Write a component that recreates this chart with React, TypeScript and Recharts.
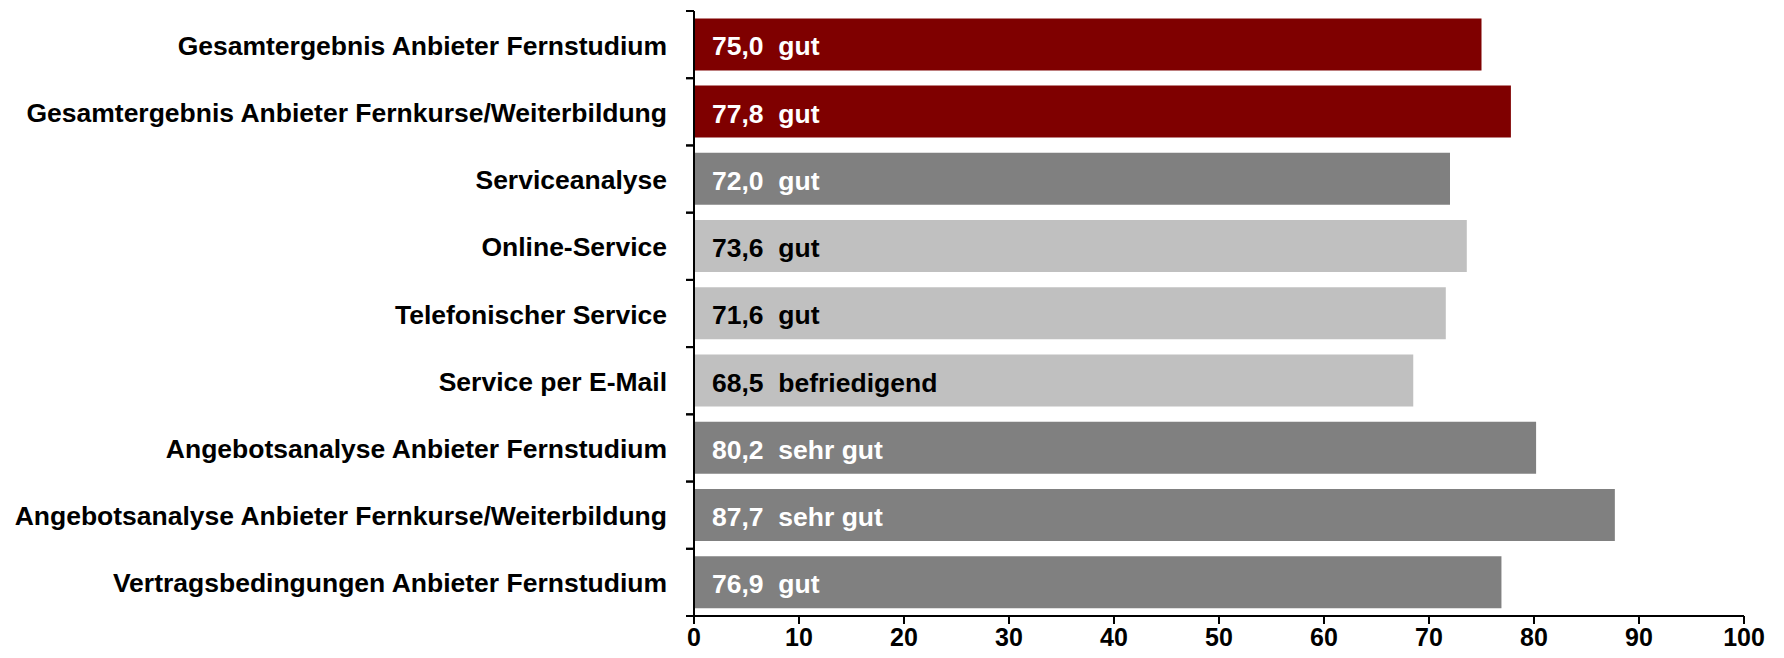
import React from "react";
import { BarChart, Bar, XAxis, YAxis, Cell, LabelList } from "recharts";

const categories = [
  "Gesamtergebnis Anbieter Fernstudium",
  "Gesamtergebnis Anbieter Fernkurse/Weiterbildung",
  "Serviceanalyse",
  "Online-Service",
  "Telefonischer Service",
  "Service per E-Mail",
  "Angebotsanalyse Anbieter Fernstudium",
  "Angebotsanalyse Anbieter Fernkurse/Weiterbildung",
  "Vertragsbedingungen Anbieter Fernstudium",
];
const scores = [75.0, 77.8, 72.0, 73.6, 71.6, 68.5, 80.2, 87.7, 76.9];
const grades = ["gut", "gut", "gut", "gut", "gut", "befriedigend", "sehr gut", "sehr gut", "gut"];
const groups = ["total", "total", "main", "sub", "sub", "sub", "main", "main", "main"];
const xTicks = [0, 10, 20, 30, 40, 50, 60, 70, 80, 90, 100];

const groupFill: Record<string, string> = { total: "#7f0000", main: "#808080", sub: "#c0c0c0" };
const groupText: Record<string, string> = { total: "#ffffff", main: "#ffffff", sub: "#000000" };

const data = categories.map((name, i) => ({
  name,
  value: scores[i],
  grade: grades[i],
  group: groups[i],
}));

const FONT = "'Liberation Sans', Arial, sans-serif";
const AXIS_X = 694;

const YTick = (props: any) => {
  const { y, payload } = props;
  const off = payload.offset ?? 0;
  return (
    <g>
      <line x1={AXIS_X - 8} x2={AXIS_X} y1={y - off} y2={y - off} stroke="#000" strokeWidth={2} />
      <line x1={AXIS_X - 8} x2={AXIS_X} y1={y + off} y2={y + off} stroke="#000" strokeWidth={2} />
      <text
        x={AXIS_X - 27}
        y={y + 1}
        textAnchor="end"
        dominantBaseline="central"
        fontFamily={FONT}
        fontWeight="bold"
        fontSize={26.5}
        fill="#000"
      >
        {payload.value}
      </text>
    </g>
  );
};

const BarLabel = (props: any) => {
  const { x, y, height, index } = props;
  const d = data[index];
  return (
    <text
      x={x + 18}
      y={y + height / 2 + 2}
      dominantBaseline="central"
      fontFamily={FONT}
      fontWeight="bold"
      fontSize={26.5}
      fill={groupText[d.group]}
    >
      {d.value.toFixed(1).replace(".", ",") + "\u00a0\u00a0" + d.grade}
    </text>
  );
};

export default function App() {
  return (
    <div style={{ position: "absolute", left: 0, top: 0, background: "#fff" }}>
      <BarChart
        width={1784}
        height={658}
        data={data}
        layout="vertical"
        margin={{ top: 11, right: 40, bottom: 0, left: 0 }}
        barCategoryGap="11%"
      >
        <XAxis
          type="number"
          domain={[0, 100]}
          ticks={xTicks}
          interval={0}
          height={42}
          axisLine={{ stroke: "#000", strokeWidth: 2 }}
          tickLine={{ stroke: "#000", strokeWidth: 2 }}
          tickSize={8}
          tickMargin={4}
          tick={{ fontFamily: FONT, fontWeight: "bold", fontSize: 25, fill: "#000" }}
        />
        <YAxis
          type="category"
          dataKey="name"
          width={694}
          interval={0}
          axisLine={{ stroke: "#000", strokeWidth: 2 }}
          tickLine={false}
          tick={<YTick />}
        />
        <Bar dataKey="value" isAnimationActive={false}>
          {data.map((d, i) => (
            <Cell key={i} fill={groupFill[d.group]} />
          ))}
          <LabelList dataKey="value" content={<BarLabel />} />
        </Bar>
      </BarChart>
    </div>
  );
}
